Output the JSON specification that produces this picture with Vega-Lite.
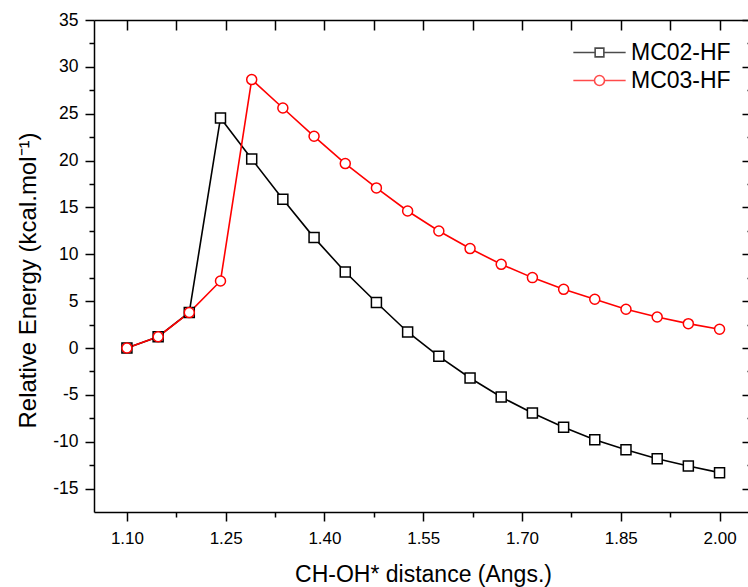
{
  "$schema": "https://vega.github.io/schema/vega-lite/v6.json",
  "width": 654,
  "height": 492,
  "autosize": {"type": "none"},
  "padding": {"left": 94, "top": 20, "right": 0, "bottom": 75},
  "background": "white",
  "config": {
    "view": {"stroke": null},
    "font": "Liberation Sans",
    "axis": {
      "grid": false,
      "domainColor": "black",
      "tickColor": "black",
      "labelColor": "black",
      "titleColor": "black",
      "domainWidth": 1.5,
      "tickWidth": 1.5,
      "labelFont": "Liberation Sans",
      "titleFont": "Liberation Sans",
      "labelFontSize": 17,
      "titleFontSize": 23,
      "titleFontWeight": "normal",
      "labelFlush": false,
      "labelOverlap": false
    }
  },
  "data": {
    "values": [
      {"d": 1.1, "E": 0.0, "series": "MC02-HF"},
      {"d": 1.1474, "E": 1.2, "series": "MC02-HF"},
      {"d": 1.1947, "E": 3.8, "series": "MC02-HF"},
      {"d": 1.2421, "E": 24.55, "series": "MC02-HF"},
      {"d": 1.2895, "E": 20.17, "series": "MC02-HF"},
      {"d": 1.3368, "E": 15.87, "series": "MC02-HF"},
      {"d": 1.3842, "E": 11.78, "series": "MC02-HF"},
      {"d": 1.4316, "E": 8.11, "series": "MC02-HF"},
      {"d": 1.4789, "E": 4.85, "series": "MC02-HF"},
      {"d": 1.5263, "E": 1.71, "series": "MC02-HF"},
      {"d": 1.5737, "E": -0.89, "series": "MC02-HF"},
      {"d": 1.6211, "E": -3.2, "series": "MC02-HF"},
      {"d": 1.6684, "E": -5.23, "series": "MC02-HF"},
      {"d": 1.7158, "E": -6.94, "series": "MC02-HF"},
      {"d": 1.7632, "E": -8.46, "series": "MC02-HF"},
      {"d": 1.8105, "E": -9.78, "series": "MC02-HF"},
      {"d": 1.8579, "E": -10.85, "series": "MC02-HF"},
      {"d": 1.9053, "E": -11.81, "series": "MC02-HF"},
      {"d": 1.9526, "E": -12.59, "series": "MC02-HF"},
      {"d": 2.0, "E": -13.3, "series": "MC02-HF"},
      {"d": 1.1, "E": 0.0, "series": "MC03-HF"},
      {"d": 1.1474, "E": 1.2, "series": "MC03-HF"},
      {"d": 1.1947, "E": 3.78, "series": "MC03-HF"},
      {"d": 1.2421, "E": 7.15, "series": "MC03-HF"},
      {"d": 1.2895, "E": 28.64, "series": "MC03-HF"},
      {"d": 1.3368, "E": 25.61, "series": "MC03-HF"},
      {"d": 1.3842, "E": 22.59, "series": "MC03-HF"},
      {"d": 1.4316, "E": 19.68, "series": "MC03-HF"},
      {"d": 1.4789, "E": 17.08, "series": "MC03-HF"},
      {"d": 1.5263, "E": 14.62, "series": "MC03-HF"},
      {"d": 1.5737, "E": 12.49, "series": "MC03-HF"},
      {"d": 1.6211, "E": 10.61, "series": "MC03-HF"},
      {"d": 1.6684, "E": 8.93, "series": "MC03-HF"},
      {"d": 1.7158, "E": 7.51, "series": "MC03-HF"},
      {"d": 1.7632, "E": 6.26, "series": "MC03-HF"},
      {"d": 1.8105, "E": 5.2, "series": "MC03-HF"},
      {"d": 1.8579, "E": 4.13, "series": "MC03-HF"},
      {"d": 1.9053, "E": 3.31, "series": "MC03-HF"},
      {"d": 1.9526, "E": 2.6, "series": "MC03-HF"},
      {"d": 2.0, "E": 2.0, "series": "MC03-HF"}
    ]
  },
  "layer": [
    {
      "mark": {"type": "line", "strokeWidth": 1.6},
      "encoding": {
        "x": {
          "field": "d", "type": "quantitative",
          "scale": {"domain": [1.05, 2.0432], "nice": false, "zero": false},
          "axis": {
            "orient": "bottom",
            "values": [1.1, 1.25, 1.4, 1.55, 1.7, 1.85, 2.0],
            "format": ".2f",
            "tickSize": 9,
            "labelPadding": 22,
            "labelBaseline": "alphabetic",
            "title": "CH-OH* distance (Angs.)",
            "titleX": 329,
            "titleY": 69,
            "titleBaseline": "alphabetic",
            "titleAlign": "center"
          }
        },
        "y": {
          "field": "E", "type": "quantitative",
          "scale": {"domain": [-17.5, 35], "nice": false, "zero": false},
          "axis": {
            "orient": "left",
            "values": [-15, -10, -5, 0, 5, 10, 15, 20, 25, 30, 35],
            "labelExpr": "'' + datum.value",
            "tickSize": 9,
            "labelPadding": 7,
            "labelFontSize": 17.5,
            "title": "Relative Energy (kcal.mol⁻¹)",
            "titleFontSize": 24,
            "titleAngle": -90,
            "titleX": -59,
            "titleY": 260,
            "titleBaseline": "alphabetic",
            "titleAlign": "center"
          }
        },
        "color": {
          "field": "series", "type": "nominal",
          "scale": {"domain": ["MC02-HF", "MC03-HF"], "range": ["#000000", "#ff0000"]},
          "legend": null
        }
      }
    },
    {
      "mark": {"type": "point", "filled": true, "fill": "white", "strokeWidth": 1.5, "size": 100, "opacity": 1},
      "encoding": {
        "x": {
          "field": "d", "type": "quantitative",
          "axis": {
            "orient": "bottom",
            "values": [1.175, 1.325, 1.475, 1.625, 1.775, 1.925],
            "tickSize": 5,
            "labels": false,
            "domain": false,
            "title": null
          }
        },
        "y": {
          "field": "E", "type": "quantitative",
          "axis": {
            "orient": "left",
            "values": [-12.5, -7.5, -2.5, 2.5, 7.5, 12.5, 17.5, 22.5, 27.5, 32.5],
            "tickSize": 5,
            "labels": false,
            "domain": false,
            "title": null
          }
        },
        "shape": {
          "field": "series", "type": "nominal",
          "scale": {"domain": ["MC02-HF", "MC03-HF"], "range": ["square", "circle"]},
          "legend": null
        },
        "stroke": {
          "field": "series", "type": "nominal",
          "scale": {"domain": ["MC02-HF", "MC03-HF"], "range": ["#000000", "#ff0000"]},
          "legend": null
        }
      }
    },
    {
      "transform": [{"filter": "false"}],
      "mark": {"type": "point", "filled": true, "fill": "white", "strokeWidth": 1.5},
      "encoding": {
        "x": {
          "field": "d", "type": "quantitative",
          "axis": {
            "orient": "top",
            "values": [1.1, 1.175, 1.25, 1.325, 1.4, 1.475, 1.55, 1.625, 1.7, 1.775, 1.85, 1.925, 2.0],
            "tickSize": -10,
            "labels": false,
            "domain": true,
            "title": null
          }
        },
        "y": {
          "field": "E", "type": "quantitative",
          "axis": {
            "orient": "right",
            "values": [-15, -10, -5, 0, 5, 10, 15, 20, 25, 30, 35],
            "tickSize": -10,
            "offset": 4,
            "labels": false,
            "domain": false,
            "title": null
          }
        },
        "shape": {
          "field": "series", "type": "nominal",
          "scale": {
            "domain": ["MC02-HF", "MC03-HF"],
            "range": [
              "M-6,0H-1M1,0H6M-1,-1H1V1H-1Z",
              "M-6,0H-1.15M1.15,0H6M-1.15,0A1.15,1.15 0 1,0 1.15,0A1.15,1.15 0 1,0 -1.15,0Z"
            ]
          },
          "legend": {
            "title": null,
            "orient": "none",
            "legendX": 472,
            "legendY": 21,
            "symbolSize": 76,
            "symbolStrokeWidth": 1.6,
            "symbolFillColor": "white",
            "symbolOffset": 22,
            "labelOffset": 20,
            "labelFontSize": 23,
            "labelFont": "Liberation Sans",
            "labelColor": "black",
            "rowPadding": 4,
            "padding": 0
          }
        },
        "stroke": {
          "field": "series", "type": "nominal",
          "scale": {"domain": ["MC02-HF", "MC03-HF"], "range": ["#000000", "#ff0000"]},
          "legend": {
            "title": null,
            "orient": "none",
            "legendX": 472,
            "legendY": 21,
            "symbolSize": 76,
            "symbolStrokeWidth": 1.6,
            "symbolFillColor": "white",
            "symbolOffset": 22,
            "labelOffset": 20,
            "labelFontSize": 23,
            "labelFont": "Liberation Sans",
            "labelColor": "black",
            "rowPadding": 4,
            "padding": 0
          }
        }
      }
    },
    {
      "transform": [{"filter": "false"}],
      "mark": {"type": "point", "opacity": 0},
      "encoding": {
        "x": {"field": "d", "type": "quantitative", "axis": null},
        "y": {
          "field": "E", "type": "quantitative",
          "axis": {
            "orient": "right",
            "values": [-12.5, -7.5, -2.5, 2.5, 7.5, 12.5, 17.5, 22.5, 27.5, 32.5],
            "tickSize": -5,
            "offset": 4,
            "labels": false,
            "domain": false,
            "title": null
          }
        }
      }
    }
  ],
  "resolve": {
    "axis": {"x": "independent", "y": "independent"},
    "scale": {"shape": "independent", "stroke": "independent"}
  }
}
